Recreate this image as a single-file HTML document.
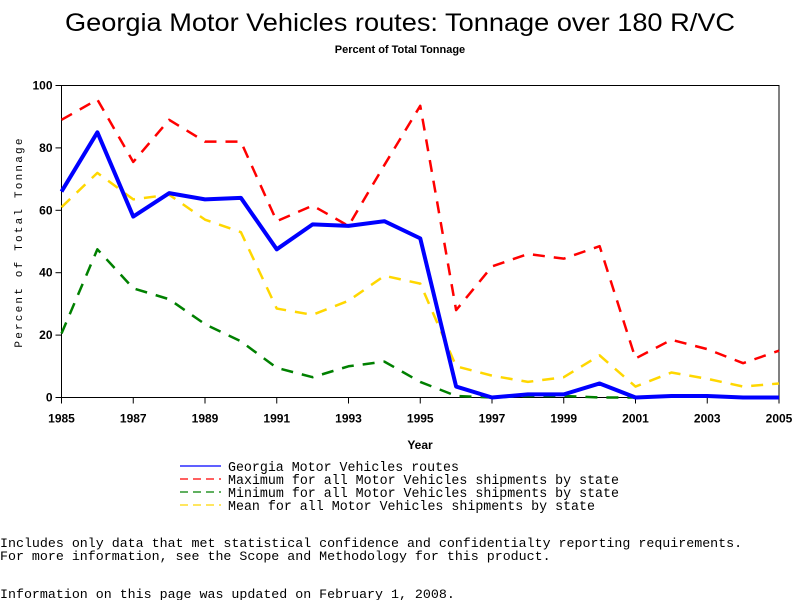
<!DOCTYPE html>
<html><head><meta charset="utf-8"><style>
body{margin:0;background:#fff;}
svg text{font-family:"Liberation Sans",sans-serif;}
.mono{font-family:"Liberation Mono",monospace;}
</style></head><body>
<svg width="800" height="600" id="chart" xmlns="http://www.w3.org/2000/svg">
<text x="400" y="31" text-anchor="middle" font-size="25" textLength="670" lengthAdjust="spacingAndGlyphs">Georgia Motor Vehicles routes: Tonnage over 180 R/VC</text>
<text x="400" y="53" text-anchor="middle" font-size="11" font-weight="bold">Percent of Total Tonnage</text>
<g id="plot"></g>
<text transform="translate(22,242) rotate(-90)" text-anchor="middle" font-size="11" letter-spacing="2.2" class="mono">Percent of Total Tonnage</text>
<text x="420" y="449" text-anchor="middle" font-size="12" font-weight="bold">Year</text>
<g>
<line x1="180" y1="466" x2="221" y2="466" stroke="#0000ff" stroke-width="1.3"/>
<line x1="180" y1="479" x2="221" y2="479" stroke="#ff0000" stroke-width="1.3" stroke-dasharray="8,5"/>
<line x1="180" y1="492" x2="221" y2="492" stroke="#008000" stroke-width="1.3" stroke-dasharray="8,5"/>
<line x1="180" y1="505" x2="221" y2="505" stroke="#ffd700" stroke-width="1.3" stroke-dasharray="8,5"/>
<text x="228" y="471" font-size="13.4" class="mono" textLength="231" lengthAdjust="spacingAndGlyphs">Georgia Motor Vehicles routes</text>
<text x="228" y="484" font-size="13.4" class="mono" textLength="391" lengthAdjust="spacingAndGlyphs">Maximum for all Motor Vehicles shipments by state</text>
<text x="228" y="497" font-size="13.4" class="mono" textLength="391" lengthAdjust="spacingAndGlyphs">Minimum for all Motor Vehicles shipments by state</text>
<text x="228" y="510" font-size="13.4" class="mono" textLength="367" lengthAdjust="spacingAndGlyphs">Mean for all Motor Vehicles shipments by state</text>
</g>
<text x="0" y="547" font-size="13.3" class="mono">Includes only data that met statistical confidence and confidentialty reporting requirements.</text>
<text x="0" y="560" font-size="13.3" class="mono">For more information, see the Scope and Methodology for this product.</text>
<text x="0" y="598" font-size="13.3" class="mono">Information on this page was updated on February 1, 2008.</text>
</svg>
<script>
const years=[1985,1986,1987,1988,1989,1990,1991,1992,1993,1994,1995,1996,1997,1998,1999,2000,2001,2002,2003,2004,2005];
const georgia=[66,85,58,65.5,63.5,64,47.5,55.5,55,56.5,51,3.5,0,1,1,4.5,0,0.5,0.5,0,0];
const maxVals=[89,95.5,75.5,89,82,82,56.5,61.5,55,74.5,93.5,28,42,46,44.5,48.5,12.5,18.5,15.5,11,15];
const meanVals=[61,72,63.5,65,57,53,28.5,26.5,31,39,36.5,10,7,5,6.5,13.5,3.5,8,6,3.5,4.5];
const minVals=[20.5,47.5,35,31.5,23.5,18,9.5,6.5,10,11.5,5,0.5,0,0.5,0.5,0,0,0.5,0.5,0,0];
const yTicks=[0,20,40,60,80,100];
const xTicks=[1985,1987,1989,1991,1993,1995,1997,1999,2001,2003,2005];
const L=61.5,R=779,T=85.5,B=397.5;
const xs=y=>L+(y-1985)/(2005-1985)*(R-L);
const ys=v=>B-v/100*(B-T);
const NS="http://www.w3.org/2000/svg";
const g=document.getElementById('plot');
function mk(tag,attrs){const e=document.createElementNS(NS,tag);for(const k in attrs)e.setAttribute(k,attrs[k]);g.appendChild(e);return e;}
const frame=mk('rect',{x:L,y:T,width:R-L,height:B-T,fill:'none',stroke:'#000','stroke-width':1});


yTicks.forEach(v=>{
  const t=mk('line',{x1:L-6,x2:L,y1:ys(v),y2:ys(v),stroke:'#000'});
  
  
  const tx=mk('text',{x:L-9,y:ys(v)+4,'text-anchor':'end','font-size':12,'font-weight':'bold'});
  tx.textContent=v;
  
  
});
xTicks.forEach(v=>{
  const t=mk('line',{x1:xs(v),x2:xs(v),y1:B,y2:B+6,stroke:'#000'});
  
  
  const tx=mk('text',{x:xs(v),y:B+25,'text-anchor':'middle','font-size':12,'font-weight':'bold'});
  tx.textContent=v;
  
  
});
function line(vals,color,w,dash,name){
  const p=mk('polyline',{points:vals.map((v,i)=>xs(years[i])+','+ys(v)).join(' '),fill:'none',stroke:color,'stroke-width':w,'stroke-linejoin':'round'});
  if(dash)p.setAttribute('stroke-dasharray',dash);
  
  
}
line(maxVals,'#ff0000',2.5,'12,9','series-max');
line(meanVals,'#ffd700',2.5,'12,9','series-mean');
line(minVals,'#008000',2.5,'12,9','series-min');
line(georgia,'#0000ff',4,null,'series-georgia');
</script>
</body></html>
